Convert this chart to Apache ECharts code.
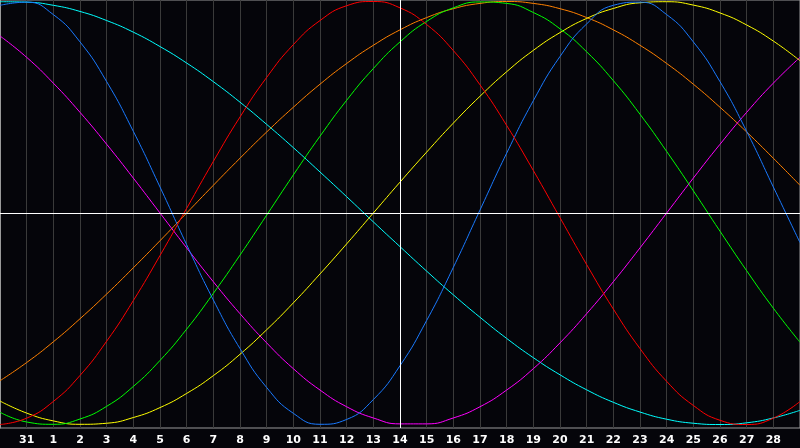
<!DOCTYPE html>
<html>
<head>
<meta charset="utf-8">
<script src="https://cdn.jsdelivr.net/npm/echarts@6/dist/echarts.min.js"></script>
<style>
html,body{margin:0;padding:0;background:#05050a;}
#c{width:800px;height:448px;}
</style>
</head>
<body>
<div id="c"></div>
<script>
// Days from Jan 30 to Mar 1 (first and last label hidden)
const days = ['30','31','1','2','3','4','5','6','7','8','9','10','11','12','13','14','15','16','17','18','19','20','21','22','23','24','25','26','27','28','1'];
const todayLabel = '14';

const red = [-1.000,-0.970,-0.891,-0.768,-0.606,-0.414,-0.201,0.022,0.244,0.454,0.641,0.796,0.910,0.980,1.000,0.970,0.891,0.768,0.606,0.414,0.201,-0.022,-0.244,-0.454,-0.641,-0.796,-0.910,-0.980,-1.000,-0.970,-0.891];
const green = [-0.942,-0.988,-0.999,-0.974,-0.914,-0.820,-0.697,-0.549,-0.380,-0.199,-0.010,0.180,0.363,0.533,0.683,0.809,0.906,0.970,0.998,0.991,0.948,0.871,0.762,0.626,0.467,0.291,0.105,-0.086,-0.273,-0.450,-0.611];
const blue = [0.982,0.997,0.938,0.809,0.621,0.386,0.123,-0.150,-0.411,-0.641,-0.825,-0.947,-0.999,-0.976,-0.882,-0.722,-0.508,-0.257,0.014,0.283,0.531,0.740,0.894,0.982,0.997,0.938,0.809,0.621,0.386,0.123,-0.140];
const yellow = [-0.889,-0.946,-0.983,-0.999,-0.994,-0.967,-0.920,-0.853,-0.769,-0.668,-0.552,-0.425,-0.288,-0.146,0.000,0.146,0.288,0.425,0.552,0.668,0.769,0.853,0.920,0.967,0.994,0.999,0.983,0.946,0.889,0.813,0.720];
const cyan = [0.999,0.997,0.982,0.953,0.910,0.855,0.787,0.709,0.621,0.524,0.419,0.309,0.194,0.077,-0.042,-0.159,-0.275,-0.387,-0.493,-0.593,-0.684,-0.765,-0.836,-0.895,-0.941,-0.975,-0.994,-1.000,-0.992,-0.969,-0.933];
const magenta = [0.837,0.736,0.614,0.476,0.325,0.165,0.000,-0.165,-0.325,-0.476,-0.614,-0.736,-0.837,-0.916,-0.969,-0.997,-0.997,-0.969,-0.916,-0.837,-0.736,-0.614,-0.476,-0.325,-0.165,0.000,0.165,0.325,0.476,0.614,0.736];
const orange = [-0.793,-0.707,-0.609,-0.500,-0.383,-0.259,-0.131,0.000,0.131,0.259,0.383,0.500,0.609,0.707,0.793,0.866,0.924,0.966,0.991,1.000,0.991,0.966,0.924,0.866,0.793,0.707,0.609,0.500,0.383,0.259,0.131];

const seriesDefs = [
  {name:'orange', data:orange, color:'#ff8000'},
  {name:'cyan', data:cyan, color:'#00ffff'},
  {name:'magenta', data:magenta, color:'#ff00ff'},
  {name:'yellow', data:yellow, color:'#ffff00'},
  {name:'green', data:green, color:'#00ff00'},
  {name:'blue', data:blue, color:'#1a7aff'},
  {name:'red', data:red, color:'#ff0000'}
];

const chart = echarts.init(document.getElementById('c'), null, {renderer:'canvas'});
const series = seriesDefs.map(s => ({
  name: s.name, type:'line', data:s.data, smooth:0.5, showSymbol:false, silent:true,
  lineStyle:{color:s.color, width:1}, itemStyle:{color:s.color}
}));
series.push({
  type:'line', data:[], silent:true,
  markLine:{silent:true, symbol:'none', label:{show:false},
    lineStyle:{color:'#ffffff', width:1, type:'solid'},
    data:[{xAxis: todayLabel},{yAxis: 0}]}
});

const lastIdx = days.length - 1;
chart.setOption({
  backgroundColor:'#05050a',
  animation:false,
  grid:{left:0, right:0, top:0, bottom:20, containLabel:false, outerBoundsMode:'none',
    show:true, borderColor:'#9a9a9a', borderWidth:1, backgroundColor:'transparent'},
  xAxis:{
    type:'category', data:days, boundaryGap:false,
    axisLine:{show:true, lineStyle:{color:'#9a9a9a', width:1}},
    axisTick:{show:false},
    axisLabel:{interval:function(i){ return i > 0 && i < lastIdx; }, color:'#ffffff',
      fontFamily:'DejaVu Sans', fontWeight:'bold', fontSize:11, margin:7},
    splitLine:{show:true, interval:0, lineStyle:{color:'#3a3a3a', width:1}}
  },
  yAxis:{
    type:'value', min:-1.0165, max:1.0071,
    axisLine:{show:true, lineStyle:{color:'#9a9a9a'}},
    axisLabel:{show:false}, axisTick:{show:false}, splitLine:{show:false}
  },
  series: series
});
</script>
</body>
</html>
